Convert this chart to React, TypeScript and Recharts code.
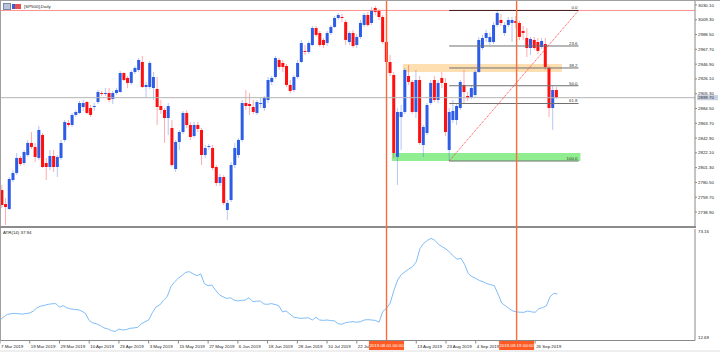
import React from 'react';
import { ComposedChart, Bar, Line, XAxis, YAxis, ReferenceLine, ReferenceArea } from 'recharts';

// SP500 daily candles, 7 Mar 2019 .. 4 Oct 2019
const opens = [
  2769.8, 2750.1, 2743.1, 2783.9, 2793.8, 2814.9, 2807.8, 2819.1, 2836.0, 2830.3,
  2814.9, 2847.2, 2807.8, 2802.2, 2817.7, 2802.2, 2814.9, 2840.2, 2864.1, 2861.3,
  2875.4, 2878.2, 2886.6, 2893.6, 2885.2, 2886.6, 2893.6, 2906.3, 2904.9, 2906.3,
  2897.9, 2906.3, 2907.7, 2934.4, 2927.4, 2920.4, 2935.8, 2938.7, 2949.9, 2914.7,
  2914.7, 2913.3, 2911.9, 2888.0, 2882.4, 2871.1, 2857.1, 2799.4, 2837.4, 2851.4,
  2878.2, 2861.3, 2845.8, 2861.3, 2854.3, 2819.1, 2830.3, 2828.9, 2802.2, 2779.7,
  2788.1, 2741.7, 2755.8, 2805.0, 2819.1, 2840.2, 2892.2, 2890.8, 2886.6, 2878.2,
  2890.8, 2885.2, 2896.5, 2921.8, 2928.8, 2952.7, 2948.5, 2944.3, 2917.6, 2910.5,
  2928.8, 2949.9, 2965.4, 2964.0, 2973.8, 2997.7, 2990.7, 2980.9, 2976.6, 2990.7,
  2999.2, 3011.8, 3013.2, 3006.2, 2978.0, 2990.7, 2973.8, 2985.1, 3002.0, 3016.0,
  3004.8, 3025.9, 3021.7, 3013.2, 2978.0, 2949.9, 2931.6, 2816.3, 2872.5, 2879.6,
  2930.2, 2921.8, 2879.6, 2924.6, 2833.2, 2850.0, 2892.2, 2924.6, 2896.5, 2927.4,
  2920.4, 2826.1, 2868.3, 2868.3, 2885.2, 2917.6, 2902.1, 2900.7, 2903.5, 2935.8,
  2969.6, 2983.7, 2978.0, 2978.0, 3002.0, 3009.0, 2990.7, 3002.0, 3004.8, 3007.6,
  3004.8, 2993.5, 2983.7, 2969.6, 2980.9, 2978.0, 2971.0, 2975.2, 2941.5, 2885.2,
  2910.5,
];
const highs = [
  2776.9, 2758.6, 2788.1, 2798.0, 2821.9, 2817.7, 2826.1, 2840.2, 2851.4, 2836.0,
  2859.9, 2850.0, 2814.9, 2826.1, 2826.1, 2819.1, 2840.2, 2868.3, 2868.3, 2878.2,
  2882.4, 2895.1, 2896.5, 2895.1, 2889.4, 2892.2, 2910.5, 2909.1, 2913.3, 2913.3,
  2909.1, 2913.3, 2937.3, 2935.8, 2930.2, 2938.7, 2944.3, 2955.5, 2958.4, 2921.8,
  2951.3, 2935.8, 2928.8, 2896.5, 2885.2, 2892.2, 2868.3, 2840.2, 2854.3, 2881.0,
  2882.4, 2865.5, 2865.5, 2865.5, 2857.1, 2833.2, 2834.6, 2833.2, 2805.0, 2792.4,
  2791.0, 2755.8, 2809.2, 2836.0, 2843.0, 2896.5, 2910.5, 2906.3, 2896.5, 2896.5,
  2899.3, 2902.1, 2928.8, 2930.2, 2958.4, 2955.5, 2952.7, 2947.1, 2924.6, 2931.6,
  2952.7, 2980.9, 2973.8, 2979.5, 3000.6, 3000.6, 2993.5, 2983.7, 2993.5, 3002.0,
  3014.6, 3018.8, 3017.4, 3009.0, 2993.5, 2994.9, 2989.3, 3009.0, 3018.8, 3020.3,
  3027.3, 3028.7, 3024.5, 3016.0, 3011.8, 2959.8, 2935.8, 2885.2, 2889.4, 2941.5,
  2945.7, 2924.6, 2938.7, 2930.2, 2861.3, 2892.2, 2924.6, 2930.2, 2924.6, 2935.8,
  2927.4, 2885.2, 2896.5, 2890.8, 2924.6, 2938.7, 2907.7, 2917.6, 2938.7, 2985.1,
  2987.9, 2994.9, 2990.7, 3006.2, 3021.7, 3017.4, 3006.2, 3013.2, 3013.2, 3014.6,
  3007.6, 3000.6, 2997.7, 2985.1, 2985.1, 2983.7, 2983.7, 2983.7, 2944.3, 2916.2,
  2914.7,
];
const lows = [
  2744.5, 2720.6, 2741.7, 2781.1, 2791.0, 2803.6, 2805.0, 2816.3, 2827.5, 2809.2,
  2812.1, 2800.8, 2783.9, 2798.0, 2795.2, 2788.1, 2812.1, 2837.4, 2858.5, 2858.5,
  2872.5, 2876.8, 2881.0, 2876.8, 2872.5, 2881.0, 2890.8, 2902.1, 2902.1, 2893.6,
  2890.8, 2903.5, 2906.3, 2923.2, 2913.3, 2917.6, 2933.0, 2935.8, 2913.3, 2899.3,
  2911.9, 2896.5, 2861.3, 2876.8, 2836.0, 2847.2, 2802.2, 2795.2, 2826.1, 2848.6,
  2857.1, 2840.2, 2843.0, 2851.4, 2805.0, 2814.9, 2826.1, 2798.0, 2775.5, 2775.5,
  2748.7, 2727.6, 2753.0, 2800.8, 2814.9, 2837.4, 2882.4, 2875.4, 2876.8, 2875.4,
  2885.2, 2881.0, 2892.2, 2917.6, 2926.0, 2938.7, 2935.8, 2914.7, 2906.3, 2907.7,
  2926.0, 2948.5, 2959.8, 2961.2, 2972.4, 2985.1, 2971.0, 2969.6, 2972.4, 2987.9,
  2997.7, 3009.0, 3006.2, 2973.8, 2973.8, 2969.6, 2969.6, 2982.3, 2999.2, 2999.2,
  3002.0, 3016.0, 3009.0, 2975.2, 2945.7, 2930.2, 2814.9, 2776.9, 2826.1, 2876.8,
  2917.6, 2876.8, 2871.1, 2833.2, 2816.3, 2847.2, 2889.4, 2893.6, 2892.2, 2913.3,
  2845.8, 2810.6, 2864.1, 2861.3, 2882.4, 2892.2, 2895.1, 2897.9, 2900.7, 2934.4,
  2966.8, 2978.0, 2973.8, 2975.2, 2999.2, 3000.6, 2986.5, 2999.2, 2978.0, 2997.7,
  2980.9, 2980.9, 2956.9, 2959.8, 2966.8, 2961.2, 2968.2, 2938.7, 2872.5, 2854.3,
  2897.9,
];
const closes = [
  2748.7, 2745.9, 2785.3, 2793.8, 2814.9, 2806.4, 2823.3, 2836.0, 2830.3, 2816.3,
  2854.3, 2802.2, 2802.2, 2817.7, 2802.2, 2816.3, 2836.0, 2865.5, 2861.3, 2875.4,
  2879.6, 2892.2, 2892.2, 2878.2, 2875.4, 2888.0, 2907.7, 2904.9, 2906.3, 2896.5,
  2906.3, 2910.5, 2934.4, 2924.6, 2920.4, 2935.8, 2941.5, 2952.7, 2914.7, 2917.6,
  2948.5, 2928.8, 2886.6, 2882.4, 2871.1, 2888.0, 2805.0, 2837.4, 2851.4, 2878.2,
  2861.3, 2844.4, 2861.3, 2855.7, 2819.1, 2828.9, 2831.7, 2800.8, 2779.7, 2788.1,
  2751.6, 2751.6, 2805.0, 2828.9, 2840.2, 2892.2, 2888.0, 2888.0, 2879.6, 2893.6,
  2892.2, 2899.3, 2924.6, 2927.4, 2955.5, 2942.9, 2942.9, 2917.6, 2909.1, 2928.8,
  2948.5, 2976.6, 2964.0, 2976.6, 2997.7, 2987.9, 2973.8, 2973.8, 2990.7, 2999.2,
  3011.8, 3016.0, 3011.8, 2980.9, 2990.7, 2972.4, 2985.1, 3004.8, 3016.0, 3002.0,
  3023.1, 3020.3, 3013.2, 2978.0, 2949.9, 2934.4, 2821.9, 2879.6, 2879.6, 2938.7,
  2921.8, 2879.6, 2924.6, 2836.0, 2858.5, 2889.4, 2920.4, 2896.5, 2920.4, 2920.4,
  2851.4, 2879.6, 2881.0, 2888.0, 2921.8, 2907.7, 2899.3, 2913.3, 2935.8, 2980.9,
  2983.7, 2990.7, 2985.1, 3002.0, 3018.8, 3004.8, 3002.0, 3009.0, 3009.0, 3004.8,
  2985.1, 2990.7, 2969.6, 2982.3, 2969.6, 2965.4, 2979.5, 2942.9, 2885.2, 2910.5,
  2899.7,
];
const atr14 = [
  23.8, 25.5, 26.9, 27.2, 27.4, 27.2, 27.0, 27.3, 27.6, 28.7,
  30.5, 31.4, 31.8, 32.3, 32.6, 32.7, 30.8, 31.6, 30.4, 29.8,
  29.5, 29.4, 28.6, 27.4, 23.5, 22.2, 21.7, 20.8, 19.5, 19.0,
  18.0, 17.6, 18.9, 18.4, 18.6, 19.3, 19.5, 19.8, 21.7, 22.8,
  23.8, 27.8, 30.9, 32.0, 34.5, 36.5, 42.0, 44.5, 46.5, 48.0,
  49.7, 50.0, 48.8, 47.8, 48.9, 43.5, 42.4, 42.8, 40.0, 37.5,
  36.4, 35.5, 35.9, 34.6, 34.1, 34.5, 34.6, 35.9, 33.8, 34.0,
  34.1, 32.5, 32.3, 32.7, 32.2, 31.6, 28.2, 28.7, 27.0, 25.4,
  25.0, 24.7, 24.9, 25.0, 23.8, 25.3, 23.8, 23.6, 23.8, 23.5,
  23.3, 21.8, 21.5, 22.4, 22.7, 22.9, 22.6, 22.9, 23.8, 24.0,
  23.8, 23.6, 22.6, 28.5, 30.1, 33.0, 40.0, 45.5, 48.5, 50.0,
  51.5, 52.7, 55.4, 62.5, 65.4, 67.0, 68.1, 67.0, 64.8, 63.5,
  62.3, 60.5, 58.5, 56.7, 57.3, 54.0, 49.0, 47.3, 46.4, 45.2,
  44.6, 43.5, 43.0, 42.4, 38.0, 33.0, 31.5, 30.0, 28.7, 28.2,
  28.0, 28.0, 28.7, 28.2, 28.0, 30.0, 30.5, 31.5, 36.4, 38.3,
  37.9,
];

// one label every 8 bars on the time axis
const dateLabels = [
  '7 Mar 2019', '19 Mar 2019', '29 Mar 2019', '10 Apr 2019', '23 Apr 2019', '3 May 2019',
  '15 May 2019', '27 May 2019', '6 Jun 2019', '18 Jun 2019', '28 Jun 2019', '10 Jul 2019',
  '22 Jul 2019', '1 Aug 2019', '13 Aug 2019', '23 Aug 2019', '4 Sep 2019', '16 Sep 2019',
  '26 Sep 2019',
];
const priceTicks = [
  3030.1, 3009.3, 2988.5, 2967.7, 2946.9, 2926.1, 2905.3, 2884.5,
  2863.7, 2842.9, 2822.1, 2801.3, 2780.5, 2759.7, 2738.9,
];
const atrTicks = [12.69, 73.16];

// drawn objects
const fibLevels = [0, 23.6, 38.2, 50, 61.8, 100];
const fibHigh = 3022.4;
const fibLow = 2810.6;
const fibFrom = 121;
const fibTo = 156;
const resistZone = [109, 151, 2935.8, 2947.1];
const supportZone = [106, 156, 2810.6, 2821.9];
const markerBars = [104, 139];
const markerTexts = ['2019.08.01 00:00', '2019.09.19 00:00'];

const SLOTS = 188;
const LABEL_STEP = 8;
const BLUE = '#2d5de6';
const RED = '#ff1010';
const ORANGE = '#ff6a3c';
const FONT = '"Liberation Sans", Arial, sans-serif';

const rows = Array.from({ length: SLOTS }, (_, i) =>
  i < closes.length
    ? { i, range: [lows[i], highs[i]], open: opens[i], high: highs[i], low: lows[i], close: closes[i], atr: atr14[i] }
    : { i }
);
const tickBars = dateLabels.map((_, k) => k * LABEL_STEP);
const lastClose = closes[closes.length - 1];
// a date label that starts under a marker's time box is hidden by it
const hiddenByMarker = (bar: number) => markerBars.some((m) => m >= bar && m - bar < LABEL_STEP);

function Candle(props: any) {
  const { x, y, width, height, payload } = props;
  if (!payload || payload.open == null) return <g />;
  const top = Math.min(y, y + height);
  const span = Math.abs(height);
  const py = (p: number) => top + ((payload.high - p) / (payload.high - payload.low || 1)) * span;
  const up = payload.close >= payload.open;
  const color = up ? BLUE : RED;
  const cx = x + width / 2;
  const yo = py(payload.open);
  const yc = py(payload.close);
  const bw = Math.min(width, 3);
  return (
    <g>
      <line x1={cx} x2={cx} y1={top} y2={top + span} stroke={color} strokeOpacity={0.35} strokeWidth={1} />
      <rect x={cx - bw / 2} y={Math.min(yo, yc)} width={bw} height={Math.max(Math.abs(yc - yo), 1)} fill={color} />
    </g>
  );
}

function fibLabel(text: string) {
  return (p: any) => {
    const vb = p.viewBox || {};
    return (
      <text x={vb.x + vb.width - 1} y={vb.y - 1.2} textAnchor="end" fontSize={4.4} fill="#333" fontFamily={FONT}>
        {text}
      </text>
    );
  };
}

function priceBox(p: any) {
  const vb = p.viewBox || {};
  const bx = vb.x + vb.width + 2;
  return (
    <g>
      <rect x={bx} y={vb.y - 2.6} width={21} height={5.2} fill="#c9d2e0" />
      <text x={bx + 1} y={vb.y + 1.6} fontSize={4.4} fill="#223" fontFamily={FONT}>
        {lastClose.toFixed(2)}
      </text>
    </g>
  );
}

function markerBox(text: string) {
  return (p: any) => {
    const vb = p.viewBox || {};
    const by = vb.y + vb.height + 0.5;
    return (
      <g>
        <rect x={vb.x - 17.5} y={by} width={35} height={9} fill="#ff5a24" />
        <text x={vb.x} y={by + 6.2} textAnchor="middle" fontSize={4.4} fill="#fff" fontFamily={FONT}>
          {text}
        </text>
      </g>
    );
  };
}

function DateTick(props: any) {
  const { x, y, payload } = props;
  if (hiddenByMarker(payload.value)) return <g />;
  return (
    <text x={x + 1} y={y + 4} fontSize={4.4} fill="#222" fontFamily={FONT}>
      {dateLabels[payload.value / LABEL_STEP]}
    </text>
  );
}

function AtrTick(props: any) {
  const { x, y, payload } = props;
  const isTop = payload.value === atrTicks[1];
  return (
    <text x={x} y={y + (isTop ? 4 : -1.5)} fontSize={4.4} fill="#222" fontFamily={FONT}>
      {payload.value.toFixed(2)}
    </text>
  );
}

export default function App() {
  return (
    <div style={{ position: 'absolute', left: 0, top: 0, width: 720, height: 352, background: '#fff', overflow: 'hidden', fontFamily: FONT }}>
      <div style={{ position: 'absolute', left: 0, top: 0 }}>
        <ComposedChart width={720} height={227} data={rows} margin={{ top: 1, right: 0, bottom: 0, left: 0 }}>
          <XAxis dataKey="i" hide />
          <YAxis
            orientation="right"
            width={25}
            type="number"
            domain={[2717.8, 3035.7]}
            ticks={priceTicks}
            interval={0}
            tickSize={2}
            tickMargin={1}
            axisLine={{ stroke: '#888' }}
            tickLine={{ stroke: '#888' }}
            tick={{ fontSize: 4.4, fill: '#222', fontFamily: FONT }}
            tickFormatter={(v: number) => v.toFixed(2)}
          />
          <ReferenceArea x1={resistZone[0]} x2={resistZone[1]} y1={resistZone[2]} y2={resistZone[3]} fill="#fddcaa" fillOpacity={0.9} stroke="none" />
          <ReferenceArea x1={supportZone[0]} x2={supportZone[1]} y1={supportZone[2]} y2={supportZone[3]} fill="#90ee90" fillOpacity={1} stroke="none" />
          <ReferenceLine y={fibHigh} stroke="#ff9090" strokeWidth={1} />
          <ReferenceLine y={lastClose} stroke="#b4b4b4" strokeWidth={1} label={priceBox} />
          {fibLevels.map((lv) => {
            const price = fibHigh - (lv / 100) * (fibHigh - fibLow);
            return (
              <ReferenceLine
                key={lv}
                segment={[{ x: fibFrom, y: price }, { x: fibTo, y: price }]}
                stroke={lv === 0 ? '#402020' : '#707070'}
                strokeWidth={1}
                label={fibLabel(lv.toFixed(1))}
              />
            );
          })}
          <Bar dataKey="range" isAnimationActive={false} shape={(p: any) => <Candle {...p} />} />
          <ReferenceLine
            segment={[{ x: fibFrom, y: fibLow }, { x: fibTo, y: fibHigh }]}
            stroke="#ff4040"
            strokeWidth={1}
            strokeDasharray="1 1"
          />
        </ComposedChart>
      </div>

      <div style={{ position: 'absolute', left: 0, top: 228 }}>
        <ComposedChart width={720} height={124} data={rows} margin={{ top: 1, right: 0, bottom: 0, left: 0 }}>
          <XAxis
            dataKey="i"
            height={11.5}
            ticks={tickBars}
            interval={0}
            tickSize={3}
            tickMargin={0}
            axisLine={{ stroke: '#888' }}
            tickLine={{ stroke: '#888' }}
            tick={<DateTick />}
          />
          <YAxis
            orientation="right"
            width={25}
            type="number"
            domain={[atrTicks[0], atrTicks[1]]}
            ticks={atrTicks}
            interval={0}
            tickSize={2}
            tickMargin={1}
            axisLine={{ stroke: '#888' }}
            tickLine={false}
            tick={<AtrTick />}
          />
          <Line dataKey="atr" type="linear" stroke="#80bdf6" strokeWidth={1} dot={false} isAnimationActive={false} />
        </ComposedChart>
      </div>

      {/* frame lines */}
      <div style={{ position: 'absolute', left: 0, top: 0, width: 720, height: 1, background: '#a0a0a0' }} />
      <div style={{ position: 'absolute', left: 0, top: 0, width: 1, height: 341, background: '#a0a0a0' }} />
      <div style={{ position: 'absolute', left: 0, top: 226, width: 696, height: 2, background: '#8c8c8c' }} />
      <div style={{ position: 'absolute', left: 0, top: 350, width: 720, height: 2, background: '#eeeeee' }} />

      {/* vertical time markers over both panels, with their time-axis boxes */}
      <div style={{ position: 'absolute', left: 0, top: 0 }}>
        <ComposedChart width={720} height={352} data={rows} margin={{ top: 1, right: 25, bottom: 11.5, left: 0 }}>
          <XAxis dataKey="i" hide />
          <YAxis hide type="number" domain={[0, 100]} allowDataOverflow />
          <Line dataKey="atr" stroke="none" strokeOpacity={0} dot={false} activeDot={false} isAnimationActive={false} />
          {markerBars.map((b, k) => (
            <ReferenceLine key={b} x={b} stroke={ORANGE} strokeWidth={1.4} label={markerBox(markerTexts[k])} />
          ))}
        </ComposedChart>
      </div>

      {/* header and indicator captions */}
      <div style={{ position: 'absolute', left: 3, top: 3, display: 'flex', alignItems: 'center', gap: 1 }}>
        <span style={{ display: 'inline-block', width: 6, height: 5, background: '#b8c4dc', border: '0.5px solid #7a88a8' }} />
        <span style={{ display: 'inline-block', width: 6, height: 5, background: '#e85050', borderLeft: '3px solid #4060d0' }} />
        <span style={{ fontSize: 4.4, color: '#222', marginLeft: 2, lineHeight: '5px' }}>[SP500],Daily</span>
      </div>
      <div style={{ position: 'absolute', left: 3, top: 229.5, fontSize: 4.4, color: '#222', lineHeight: '5px' }}>ATR(14) 37.94</div>
    </div>
  );
}
